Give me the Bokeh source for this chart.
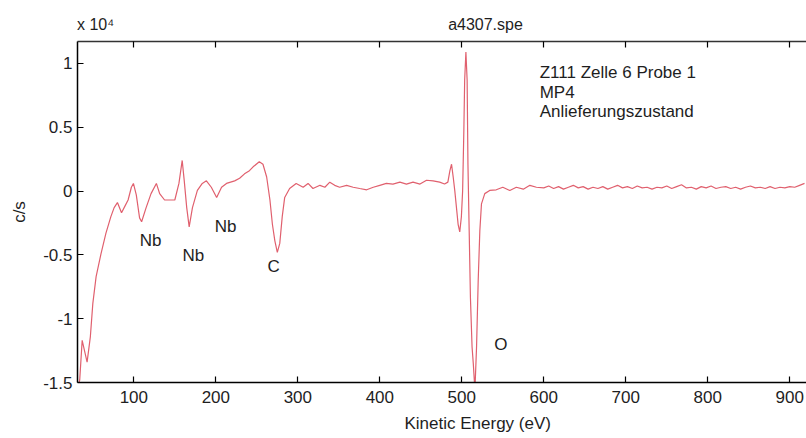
from bokeh.plotting import figure
from bokeh.models import Range1d, FixedTicker, LinearAxis, Title
from bokeh.core.properties import value
from bokeh.embed import file_html
from bokeh.resources import INLINE

# ---- data (kinetic energy in eV, signal in c/s) ----
energy_low = [31, 34, 37, 43, 47, 50, 54, 60, 66, 72, 76, 80, 85, 89, 93, 97, 99.5, 103, 107, 109.5,
              115, 121, 127.5, 131.5, 137.5, 144, 150, 155, 159, 161.5, 164.5, 167.5, 171.5, 177.5,
              183.5, 188.5, 194.5, 201, 207, 213, 223, 229, 235, 241, 245.5, 253, 257.5, 262, 266,
              269, 272, 275, 278, 281, 284, 290, 298]
counts_low = [-15800, -14800, -11700, -13400, -11400, -8800, -6700, -4900, -3300, -2000, -1300, -900,
              -1700, -1200, -700, 300, 600, -300, -2100, -2400,
              -1300, -200, 600, -200, -700, -700, -700, 600, 2400, 800, -1300, -2800, -1300, 50,
              600, 800, 300, -500, 300, 600, 800, 1000, 1350, 1600, 1900, 2300, 2100, 1100, -700,
              -2600, -3900, -4800, -4100, -2000, -500, 200, 600]

energy_mid = [306.5, 312.5, 318.5, 327, 333, 339, 345, 351, 359.5, 367.5, 375.5, 384, 392, 400, 408,
              416, 424.5, 432.5, 440.5, 449, 457, 465, 473, 479, 483, 485.5, 487.5, 489.5, 491.5,
              495.5, 497.5, 499.5, 501, 502.5, 503.5, 505, 506.5, 507.5, 509, 510.5, 512.5, 514,
              516, 518, 520, 522, 524, 528, 534, 542, 550, 558.5, 566.5, 575, 583, 591]
counts_mid = [300, 600, 200, 450, 300, 700, 450, 300, 450, 300, 200, 100, 300, 450, 600,
              550, 700, 550, 700, 550, 850, 800, 700, 550, 700, 1600, 2100, 1100, 0,
              -2600, -3200, -2000, 0, 4750, 8700, 10900, 8700, 2100, -3100, -8300, -12200, -13500,
              -15600, -12200, -7000, -3100, -1000, -200, 50, 100, 300, 50, 300, 150, 450, 300]

energy_high = [600, 606, 612, 618, 624, 630, 636, 642, 648, 654, 660, 666, 672, 678, 684, 690, 696,
               702, 708, 714, 720, 726, 732, 738, 744, 750, 756, 762, 768, 774, 780, 786, 792, 798,
               804, 810, 816, 822, 828, 834, 840, 846, 852, 858, 864, 870, 876, 882, 888, 894, 900,
               906, 912, 918]
counts_high = [250, 400, 200, 350, 150, 300, 450, 250, 350, 150, 300, 200, 350, 150, 300, 450, 250,
               350, 200, 400, 250, 300, 150, 300, 250, 400, 200, 350, 500, 250, 300, 150, 350, 250,
               400, 200, 300, 350, 200, 300, 150, 300, 400, 250, 300, 200, 350, 200, 300, 250, 350,
               300, 450, 600]

x_ticks = [100, 200, 300, 400, 500, 600, 700, 800, 900]
y_ticks = [-15000, -10000, -5000, 0, 5000, 10000]
y_tick_labels = ["-1.5", "-1", "-0.5", "0", "0.5", "1"]

title_text = "a4307.spe"
x_label = "Kinetic Energy (eV)"
y_label = "c/s"
multiplier = "x 10\u2074"
note_lines = ["Z111 Zelle 6  Probe 1", "MP4", "Anlieferungszustand"]
peak_names = ["Nb", "Nb", "Nb", "C", "O"]

energy = energy_low + energy_mid + energy_high
counts = counts_low + counts_mid + counts_high

FONT = "Liberation Sans"
TXT = "#1e1e1e"

p = figure(width=806, height=438, x_range=Range1d(31.3, 920.4), y_range=Range1d(-15000, 11720),
           output_backend="svg", toolbar_location=None,
           min_border_left=77, min_border_right=0, min_border_top=41, min_border_bottom=56)
p.outline_line_color = None
p.grid.visible = False
p.background_fill_color = "white"
p.border_fill_color = "white"

p.line(energy, counts, line_color="#e0606e", line_width=1.2)

def style_axis(ax):
    ax.axis_line_color = "black"
    ax.axis_line_width = 1.5
    ax.major_tick_line_color = "black"
    ax.major_tick_line_width = 1.2
    ax.major_tick_in = 6
    ax.major_tick_out = 0
    ax.minor_tick_line_color = None
    ax.major_label_text_font = FONT
    ax.major_label_text_font_size = "17px"
    ax.major_label_text_color = TXT
    ax.axis_label_text_font = FONT
    ax.axis_label_text_font_size = "17px"
    ax.axis_label_text_color = TXT
    ax.axis_label_text_font_style = "normal"

style_axis(p.xaxis[0])
p.xaxis[0].ticker = FixedTicker(ticks=x_ticks)
p.xaxis[0].major_label_standoff = 8

style_axis(p.yaxis[0])
p.yaxis[0].ticker = FixedTicker(ticks=y_ticks)
p.yaxis[0].major_label_overrides = {t: s for t, s in zip(y_ticks, y_tick_labels)}
p.yaxis[0].major_label_standoff = 5
p.yaxis[0].axis_label = y_label
p.yaxis[0].axis_label_standoff = 11

# top spine with inward ticks, no labels
top = LinearAxis(ticker=FixedTicker(ticks=x_ticks))
style_axis(top)
top.axis_line_color = "#333333"
top.major_label_overrides = {t: "" for t in x_ticks}
top.major_label_text_font_size = "2px"
top.major_label_standoff = 0
p.add_layout(top, "above")

# a text-only top axis carrying the scale multiplier and the file name
head_pos = [53.3, 528.9]
head = LinearAxis(ticker=FixedTicker(ticks=head_pos))
style_axis(head)
head.axis_line_color = None
head.major_tick_line_color = None
head.major_label_standoff = 9
head.major_label_text_font_size = "16px"
head.major_label_overrides = {head_pos[0]: multiplier, head_pos[1]: title_text}
p.add_layout(head, "above")

# x axis title below, shifted like the reference
p.add_layout(Title(text=x_label, align="left", offset=327, text_font=FONT, text_font_size="17px",
                   text_font_style="normal", text_color=TXT, standoff=12), "below")

# peak annotations
peak_x = [120.5, 172.5, 212, 270.5, 547.5]
peak_y = [-3870, -5050, -2770, -5910, -12020]
p.text(x=peak_x, y=peak_y, text=peak_names, text_font=value(FONT), text_font_size=value("17px"),
       text_color=TXT, text_align="center", text_baseline="middle")

# sample description
p.text(x=[595, 595, 595], y=[9330, 7700, 6200], text=note_lines, text_font=value(FONT),
       text_font_size=value("17px"), text_color=TXT, text_align="left", text_baseline="middle")

open("out.html", "w").write(file_html(p, INLINE))
